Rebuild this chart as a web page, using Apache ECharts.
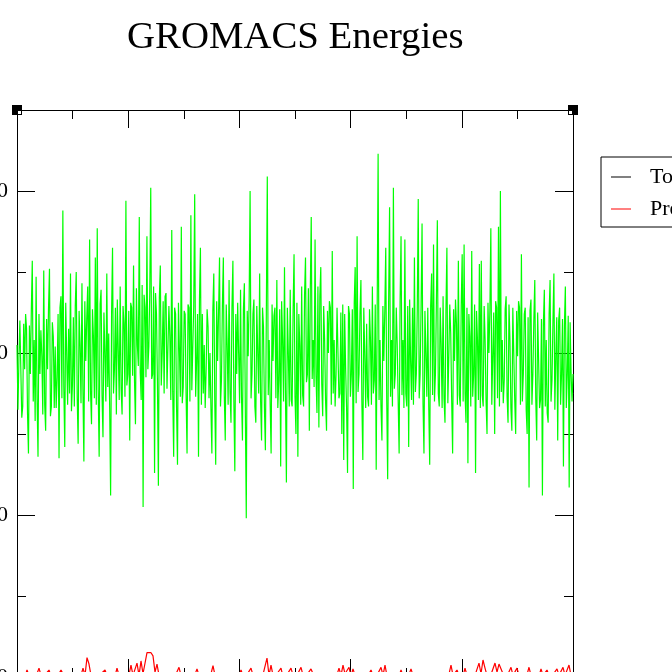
<!DOCTYPE html>
<html><head><meta charset="utf-8">
<script src="https://cdn.jsdelivr.net/npm/echarts@6/dist/echarts.min.js"></script>
<style>html,body{margin:0;padding:0;overflow:hidden;background:#fff}#c{width:672px;height:760px}</style>
</head><body><div id="c"></div>
<script>
const titleText = 'GROMACS Energies';
const legendNames = ['Total Energy', 'Pressure'];
const timeMax = 500;
const xMajor = 100;
const yMin = 0, yMax = 350, yMajor = 100, yMinor = 50;

const totalEnergyValues = [];
const greenValues = [
205,165,196,220,219,160,167,218,190,224,215,163,138,217,187,226,257,170,208,158,
247,172,136,224,187,214,198,162,251,168,152,221,190,228,252,161,167,219,210,166,
204,166,185,224,135,228,235,172,288,179,142,231,200,168,215,175,249,164,180,222,
167,229,250,173,144,226,205,169,243,178,133,232,195,221,241,170,270,176,156,227,
210,172,259,168,277,177,136,230,239,174,148,225,200,170,249,179,212,166,112,224,
265,175,190,228,162,233,232,171,241,178,162,229,218,173,294,180,187,226,146,231,
228,186,254,183,156,240,205,192,284,188,171,242,105,236,228,185,272,190,204,238,
302,184,187,241,126,237,224,182,118,234,254,180,200,232,175,235,237,178,177,229,
210,171,276,176,136,228,224,167,131,231,232,173,278,169,179,226,224,174,138,230,
228,170,285,177,177,229,298,173,195,224,136,233,265,168,224,175,205,166,190,227,
216,172,200,166,138,226,249,171,131,232,195,225,259,167,183,229,259,174,146,230,
205,168,245,176,157,228,257,170,127,224,187,231,200,169,239,173,146,227,243,165,
98,226,198,233,300,172,187,224,233,167,157,229,200,175,249,170,146,228,216,166,
140,225,309,174,208,169,138,230,195,223,228,172,245,166,183,227,130,232,208,170,
253,176,120,228,200,167,239,171,167,226,261,173,150,231,136,224,205,168,241,174,
167,236,259,182,187,240,152,238,284,184,208,179,270,186,163,241,154,235,253,181,
161,229,208,170,152,226,200,232,228,168,263,175,208,167,187,228,200,172,175,225,
150,230,134,224,190,166,126,229,224,173,187,227,116,231,253,169,272,176,187,224,
245,170,134,228,200,166,218,173,167,227,208,168,241,175,183,230,128,224,323,171,
208,167,146,229,195,226,265,172,
122,231,290,173,208,167,302,178,187,228,205,170,138,232,272,174,208,166,270,175,
167,229,142,233,195,171,228,168,259,176,187,227,295,172,187,230,280,169,138,226,
200,173,228,167,131,229,249,174,267,170,187,231,282,175,167,228,205,166,235,172,
157,226,265,169,198,230,212,171,138,227,195,233,218,168,257,174,167,229,261,170,
267,175,157,228,132,224,210,167,263,173,187,230,126,226,208,171,255,166,257,174,
167,229,208,170,150,231,200,226,277,168,198,225,150,232,228,172,278,167,300,176,
208,169,183,227,235,173,157,230,208,166,152,228,228,171,150,226,198,232,228,168,
261,170,187,224,228,165,150,222,117,226,233,168,187,220,245,172,146,225,224,166,
171,221,112,218,239,167,208,163,157,224,245,170,183,219,249,165,198,222,146,220,
228,168,187,221,130,217,241,166,187,223,117,219,187,170,187
];
const pressureValues = [
1,0.5,2,1,0,4.3,1,2,0.5,1,
2,5.5,1,0,1.5,1,4.3,0.5,2,1,
0,1,4.3,2,1,0.5,1,2,0,1,
1.5,0.5,1,5.5,1,12,8,1,0,2,
1,0.5,2,1,4.3,1,0,1.5,1,0.5,
5.5,1,2,0.5,1,0,1.5,7.4,1,2,
8.6,1,9.9,2,3,15,15.5,15,13,3,
8,1,0.5,2,1,0,1.5,1,2,0.5,
1,6,1,2,0,1,0.5,2,1,1.5,
5,1,0.5,2,1,0,1,2,7,1,
0.5,2,1,1.5,0,1,2,0.5,1,1,
2,0.5,4.3,1,0,1.5,1,5.5,1,2,
0.5,1,0,1.5,2,11.7,1,7.4,1,0.5,
2,1,5.5,0,1,1.5,2,5.5,1,0.5,
1,2,6,1,0,1.5,1,5,2,0.5,
1,0,2,1,1.5,0.5,1,2,0,1,
1.5,5.5,1,7.4,2,1,6,0.5,5,1,
2,0.5,1,0,1.5,1,2,4.3,1,0.5,
1,2,6,1,7.4,0.5,1,1.5,0,2,
1,0.5,4.3,1,2,0,1.5,5,1,0.5,
2,1,0,1.5,1,0.5,2,1,0,1,
1.5,2,0.5,1,0,1,2,7.4,1,0.5,
4.3,1,2,0.5,5.5,1,0,1.5,2,1,
0.5,8.6,2,10.5,5.5,1,0,1.5,2,8.6,
3,8,8.6,2,1,0.5,1,6,1,0,
5.5,1,2,0.5,1,1.5,6,1,0,2,
1,0.5,5,1,2,4.3,1,0,1.5,1,
5,1,2,6,1,0.5,7.4,1,2
];

const serif = "'Liberation Serif','Times New Roman',serif";
const toPairs = vals => vals.map((v, i) => [i * timeMax / (vals.length - 1), v]);
const axisLine = {show: true, onZero: false, lineStyle: {color: '#000', width: 1}};

function yAx(pos, major, labels) {
  return {
    type: 'value', position: pos, min: yMin, max: yMax,
    interval: major ? yMajor : yMinor,
    axisLine: axisLine,
    axisTick: {show: true, inside: true, length: major ? 18 : 9, lineStyle: {color: '#000', width: 1}},
    axisLabel: {show: labels, showMaxLabel: false, margin: 9, color: '#000', fontSize: 22, fontFamily: serif},
    splitLine: {show: false}
  };
}
function xAx(pos, labels) {
  return {
    type: 'value', position: pos, min: 0, max: timeMax, interval: xMajor,
    axisLine: axisLine,
    axisTick: {show: true, inside: true, length: 18, lineStyle: {color: '#000', width: 1}},
    minorTick: {show: true, splitNumber: 2, length: 9, lineStyle: {color: '#000', width: 1}},
    axisLabel: {show: labels, color: '#000', fontSize: 22, fontFamily: serif},
    splitLine: {show: false}, minorSplitLine: {show: false}
  };
}

const chart = echarts.init(document.getElementById('c'), null, {renderer: 'canvas'});
chart.setOption({
  animation: false,
  backgroundColor: '#fff',
  title: {
    text: titleText, left: 127, top: 18, padding: 0,
    textStyle: {fontFamily: serif, fontSize: 38.8, fontWeight: 'normal', color: '#000'}
  },
  grid: {left: 17, top: 110, width: 556, height: 567, containLabel: false, outerBoundsMode: 'none'},
  xAxis: [xAx('bottom', true), xAx('top', false)],
  yAxis: [yAx('left', true, true), yAx('left', false, false), yAx('right', true, false), yAx('right', false, false)],
  legend: {
    orient: 'vertical', left: 601, top: 157, padding: [4, 12, 2, 10],
    itemGap: 0, itemWidth: 20, itemHeight: 1, icon: 'rect',
    borderColor: '#000', borderWidth: 1, borderRadius: 0,
    selectedMode: false, data: legendNames,
    textStyle: {fontFamily: serif, fontSize: 22, color: '#000', lineHeight: 22, padding: [0, 0, 10, 14]}
  },
  series: [
    {name: legendNames[0], type: 'line', data: toPairs(totalEnergyValues), color: '#000000',
     showSymbol: false, lineStyle: {width: 1}},
    {name: 'trace', type: 'line', data: toPairs(greenValues), color: '#00ff00',
     showSymbol: false, lineStyle: {width: 1.2}},
    {name: legendNames[1], type: 'line', data: toPairs(pressureValues), color: '#ff0000',
     showSymbol: false, lineStyle: {width: 1.2}}
  ]
});

const tl = chart.convertToPixel({gridIndex: 0}, [0, yMax]);
const tr = chart.convertToPixel({gridIndex: 0}, [timeMax, yMax]);
const bl = chart.convertToPixel({gridIndex: 0}, [0, yMin]);
const br = chart.convertToPixel({gridIndex: 0}, [timeMax, yMin]);
const handles = [[tl, 1, 1], [tr, -1, 1], [bl, 1, -1], [br, -1, -1]].flatMap(([p, dx, dy]) => [
  {type: 'rect', z: 100, shape: {x: p[0] - 5, y: p[1] - 5, width: 10, height: 10}, style: {fill: '#000'}},
  {type: 'rect', z: 101, shape: {x: dx > 0 ? p[0] + 1 : p[0] - 4, y: dy > 0 ? p[1] + 1 : p[1] - 4, width: 3, height: 3}, style: {fill: '#fff'}}
]);
chart.setOption({graphic: handles});
</script>
</body></html>
